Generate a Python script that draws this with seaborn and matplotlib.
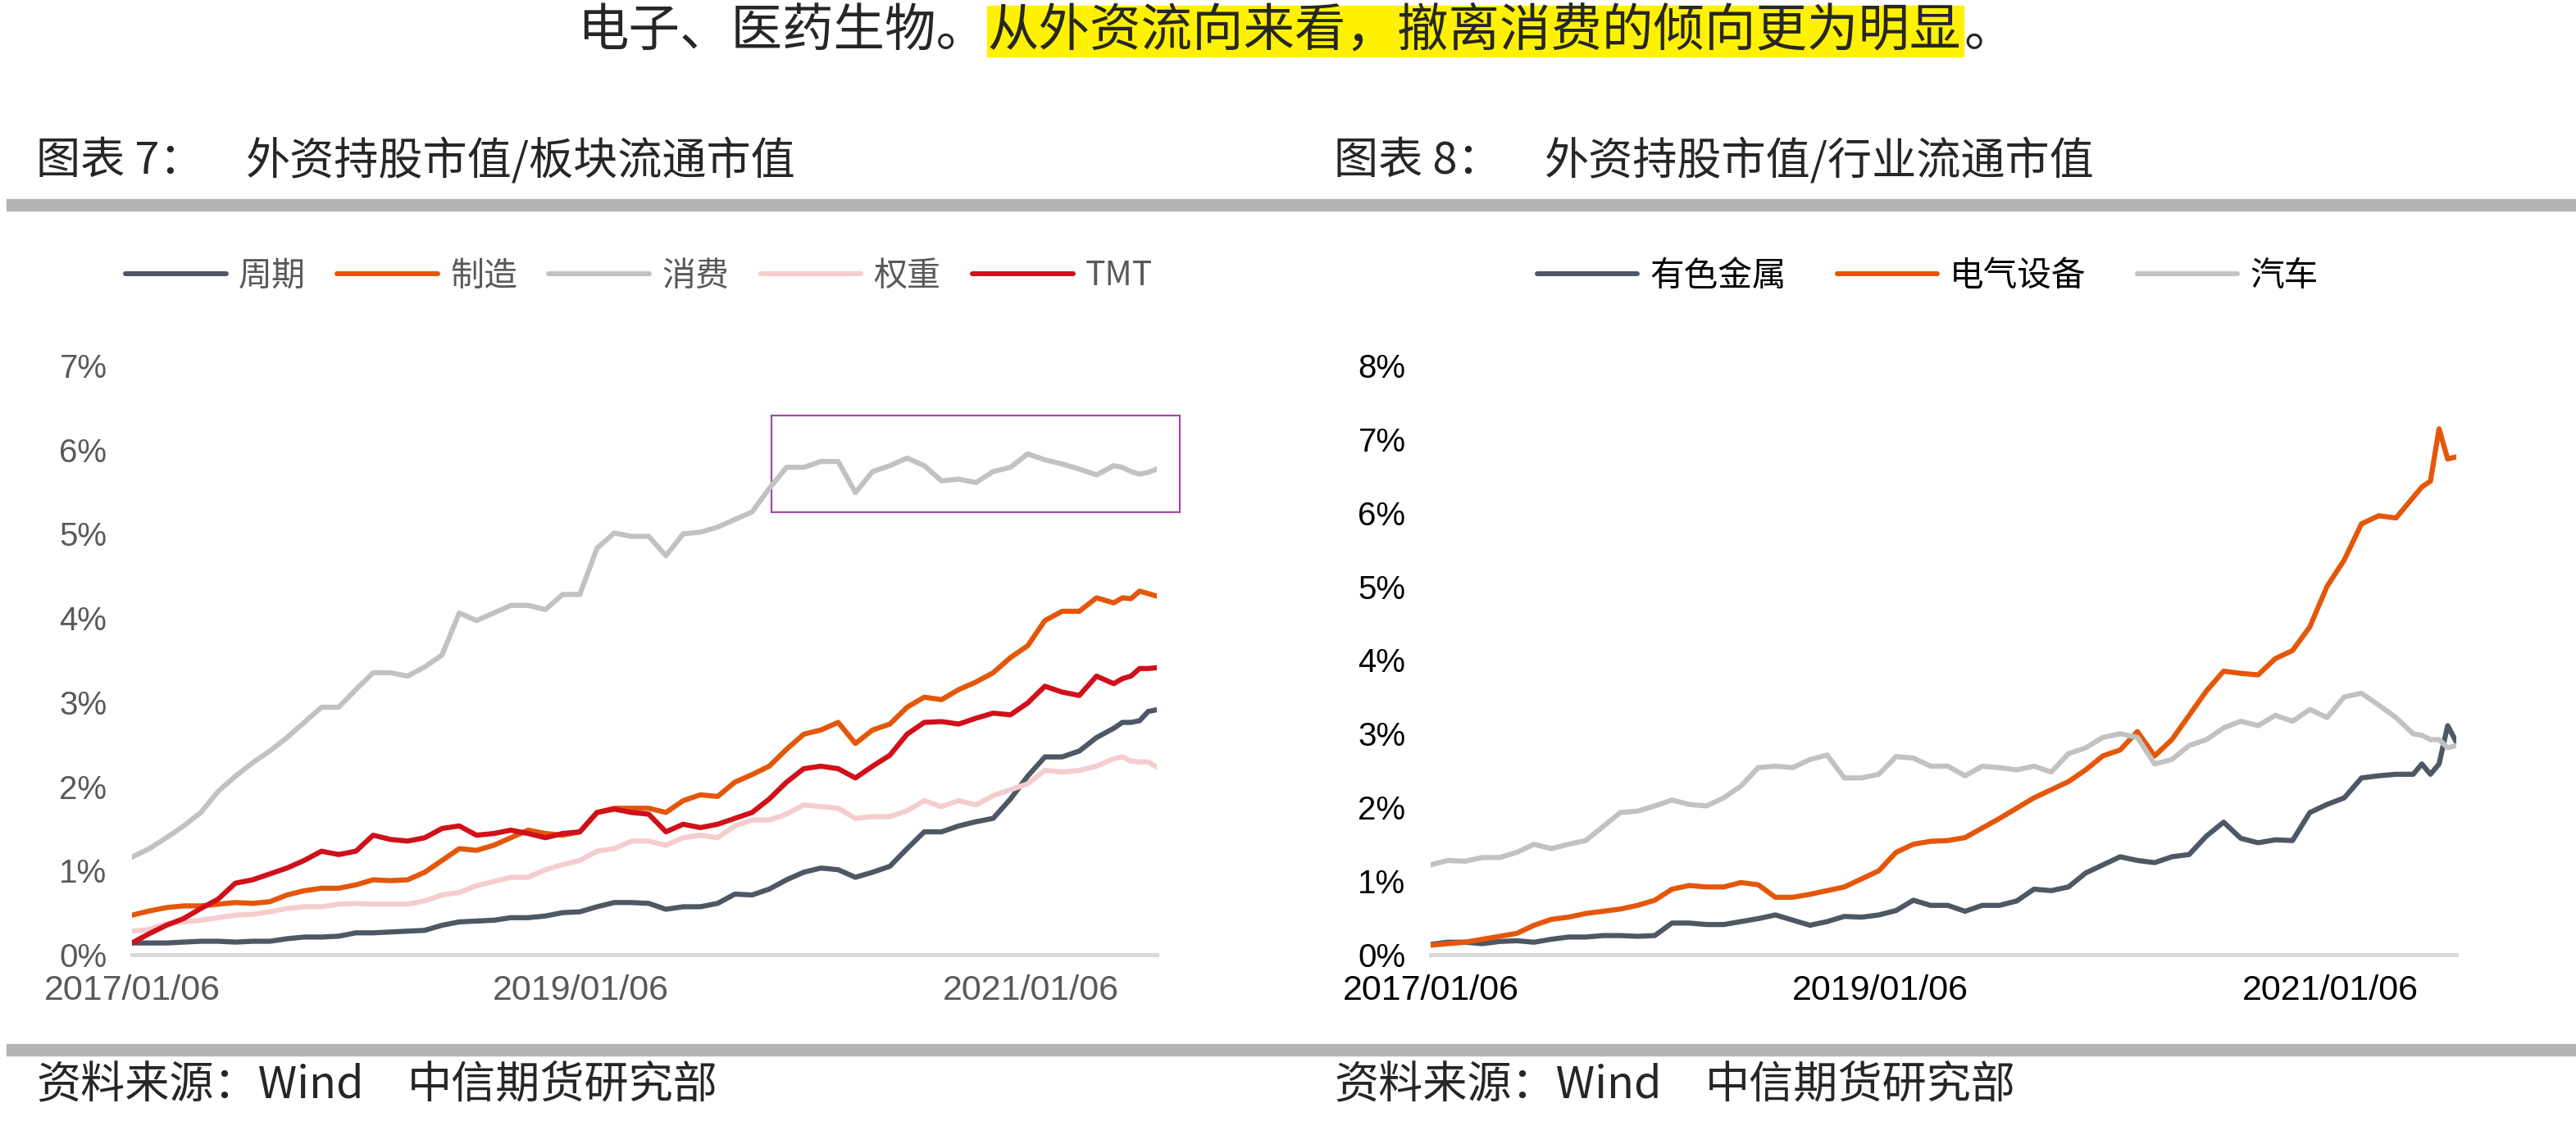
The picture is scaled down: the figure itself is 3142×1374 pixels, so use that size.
import matplotlib
matplotlib.use("Agg")
from matplotlib import pyplot as plt
from matplotlib.lines import Line2D
from matplotlib.patches import Rectangle
from matplotlib.ticker import PercentFormatter
import pandas as pd
import seaborn as sns

# ==============================================================================
# DATA (values in %, read off the picture, sampled every 4 weeks + last 5 biweekly)
# ==============================================================================
dates = pd.date_range("2017-01-06", "2021-05-21", freq="28D").append(
    pd.DatetimeIndex(["2021-06-04", "2021-06-18", "2021-07-02", "2021-07-16", "2021-07-30"]))

# 图表 7: 外资持股市值/板块流通市值
zhouqi = [0.14, 0.14, 0.14, 0.15, 0.16, 0.16, 0.15, 0.16, 0.16, 0.19,
          0.21, 0.21, 0.22, 0.26, 0.26, 0.27, 0.28, 0.29, 0.35, 0.39,
          0.40, 0.41, 0.44, 0.44, 0.46, 0.50, 0.51, 0.57, 0.62, 0.62,
          0.61, 0.54, 0.57, 0.57, 0.61, 0.72, 0.71, 0.78, 0.89, 0.98,
          1.03, 1.01, 0.92, 0.98, 1.05, 1.26, 1.46, 1.46, 1.53, 1.58,
          1.62, 1.85, 2.12, 2.35, 2.35, 2.42, 2.58, 2.69,
          2.76, 2.76, 2.78, 2.89, 2.91]
zhizao = [0.47, 0.52, 0.56, 0.58, 0.58, 0.60, 0.62, 0.61, 0.63, 0.71,
          0.76, 0.79, 0.79, 0.83, 0.89, 0.88, 0.89, 0.98, 1.12, 1.26,
          1.24, 1.30, 1.39, 1.48, 1.44, 1.42, 1.46, 1.69, 1.74, 1.74,
          1.74, 1.69, 1.83, 1.90, 1.88, 2.05, 2.14, 2.24, 2.44, 2.62,
          2.67, 2.76, 2.51, 2.67, 2.74, 2.94, 3.06, 3.03, 3.15, 3.24,
          3.35, 3.53, 3.67, 3.97, 4.08, 4.08, 4.24, 4.18,
          4.24, 4.23, 4.32, 4.29, 4.26]
xiaofei = [1.16, 1.26, 1.39, 1.53, 1.69, 1.94, 2.12, 2.28, 2.42, 2.58,
           2.76, 2.94, 2.94, 3.15, 3.35, 3.35, 3.31, 3.42, 3.56, 4.06,
           3.97, 4.06, 4.15, 4.15, 4.10, 4.28, 4.28, 4.83, 5.01, 4.97,
           4.97, 4.74, 5.00, 5.02, 5.08, 5.17, 5.26, 5.54, 5.79, 5.79,
           5.86, 5.86, 5.49, 5.74, 5.81, 5.90, 5.81, 5.63, 5.65, 5.61,
           5.74, 5.79, 5.95, 5.88, 5.83, 5.77, 5.70, 5.81,
           5.79, 5.74, 5.71, 5.73, 5.77]
quanzhong = [0.28, 0.30, 0.37, 0.39, 0.41, 0.44, 0.47, 0.48, 0.51, 0.55,
             0.57, 0.57, 0.60, 0.61, 0.60, 0.60, 0.60, 0.64, 0.71, 0.74,
             0.82, 0.87, 0.92, 0.92, 1.01, 1.07, 1.12, 1.23, 1.26, 1.35,
             1.35, 1.30, 1.39, 1.42, 1.39, 1.53, 1.60, 1.60, 1.67, 1.78,
             1.76, 1.74, 1.62, 1.64, 1.64, 1.71, 1.83, 1.76, 1.83, 1.78,
             1.89, 1.96, 2.03, 2.19, 2.17, 2.19, 2.24, 2.33,
             2.35, 2.30, 2.29, 2.29, 2.23]
tmt = [0.14, 0.25, 0.35, 0.43, 0.55, 0.66, 0.85, 0.89, 0.96, 1.03,
       1.12, 1.23, 1.19, 1.23, 1.42, 1.37, 1.35, 1.39, 1.50, 1.53,
       1.42, 1.44, 1.48, 1.44, 1.39, 1.44, 1.46, 1.69, 1.73, 1.69,
       1.67, 1.46, 1.55, 1.51, 1.55, 1.62, 1.69, 1.85, 2.05, 2.21,
       2.24, 2.21, 2.10, 2.24, 2.37, 2.62, 2.76, 2.77, 2.74, 2.81,
       2.87, 2.85, 2.99, 3.19, 3.12, 3.08, 3.31, 3.22,
       3.28, 3.31, 3.40, 3.40, 3.41]

# 图表 8: 外资持股市值/行业流通市值
youse = [0.14, 0.17, 0.17, 0.15, 0.18, 0.19, 0.17, 0.21, 0.24, 0.24,
         0.26, 0.26, 0.25, 0.26, 0.43, 0.43, 0.41, 0.41, 0.45, 0.49,
         0.54, 0.47, 0.40, 0.45, 0.52, 0.51, 0.54, 0.60, 0.74, 0.67,
         0.67, 0.59, 0.67, 0.67, 0.73, 0.89, 0.87, 0.92, 1.11, 1.22,
         1.33, 1.28, 1.25, 1.33, 1.36, 1.61, 1.80, 1.58, 1.52, 1.56,
         1.55, 1.93, 2.04, 2.13, 2.40, 2.43, 2.45, 2.45,
         2.59, 2.45, 2.59, 3.11, 2.89]
dianqi = [0.13, 0.15, 0.17, 0.21, 0.25, 0.29, 0.40, 0.48, 0.51, 0.56,
          0.59, 0.62, 0.67, 0.74, 0.89, 0.94, 0.92, 0.92, 0.98, 0.95,
          0.78, 0.78, 0.82, 0.87, 0.92, 1.03, 1.14, 1.39, 1.50, 1.54,
          1.55, 1.59, 1.72, 1.85, 1.99, 2.13, 2.24, 2.35, 2.51, 2.70,
          2.78, 3.03, 2.70, 2.92, 3.25, 3.58, 3.85, 3.82, 3.80, 4.02,
          4.13, 4.45, 5.00, 5.36, 5.85, 5.96, 5.93, 6.21,
          6.35, 6.43, 7.14, 6.73, 6.76]
qiche = [1.22, 1.28, 1.27, 1.32, 1.32, 1.39, 1.50, 1.44, 1.50, 1.55,
         1.74, 1.93, 1.95, 2.02, 2.10, 2.04, 2.02, 2.13, 2.29, 2.54,
         2.56, 2.54, 2.65, 2.71, 2.40, 2.40, 2.45, 2.69, 2.67, 2.56,
         2.56, 2.43, 2.56, 2.54, 2.51, 2.56, 2.48, 2.73, 2.81, 2.95,
         3.00, 2.95, 2.59, 2.65, 2.84, 2.92, 3.08, 3.17, 3.11, 3.25,
         3.17, 3.33, 3.22, 3.50, 3.55, 3.39, 3.22, 3.00,
         2.98, 2.92, 2.92, 2.81, 2.84]

left_names = ["周期", "制造", "消费", "权重", "TMT"]
left_colors = ["#4E5865", "#E4570B", "#C2C2C2", "#F5CDCF", "#D0101A"]
right_names = ["有色金属", "电气设备", "汽车"]
right_colors = ["#4E5865", "#E4570B", "#C2C2C2"]

tick_dates = ["2017-01-06", "2019-01-06", "2021-01-06"]
tick_labels = ["2017/01/06", "2019/01/06", "2021/01/06"]

left_df = pd.DataFrame({"date": dates, "周期": zhouqi, "制造": zhizao, "消费": xiaofei,
                        "权重": quanzhong, "TMT": tmt})
right_df = pd.DataFrame({"date": dates, "有色金属": youse, "电气设备": dianqi, "汽车": qiche})

# ==============================================================================
# STYLE / LAYOUT
# ==============================================================================
sns.set_theme(style="white")
plt.rcParams["font.family"] = ["Noto Sans CJK SC", "DejaVu Sans"]

W, H = 3142, 1374
fig = plt.figure(figsize=(W / 100, H / 100), dpi=100)


def fx(px):
    return px / W


def fy(py):
    return 1 - py / H


def draw_panel(ax, df, names, colors, ymax, text_color):
    long = df.melt(id_vars="date", var_name="series", value_name="value")
    sns.lineplot(data=long, x="date", y="value", hue="series", hue_order=names,
                 palette=colors, linewidth=4.5, ax=ax, legend=False,
                 solid_capstyle="round", solid_joinstyle="round")
    ax.set_xlim(df["date"].iloc[0], df["date"].iloc[-1])
    ax.set_ylim(0, ymax)
    ax.set_yticks(range(0, ymax + 1))
    ax.yaxis.set_major_formatter(PercentFormatter(decimals=0))
    ax.set_xticks(pd.to_datetime(tick_dates))
    ax.set_xticklabels(tick_labels)
    ax.set_xlabel("")
    ax.set_ylabel("")
    ax.tick_params(axis="both", length=0, colors=text_color)
    ax.tick_params(axis="x", pad=17, labelsize=31)
    ax.tick_params(axis="y", pad=22, labelsize=29)
    for lab in ax.get_yticklabels():
        lab.set_fontfamily(["Liberation Sans Narrow", "Liberation Sans", "DejaVu Sans"])
    for lab in ax.get_xticklabels():
        lab.set_fontfamily(["Liberation Sans", "DejaVu Sans"])
    for side in ["left", "top", "right"]:
        ax.spines[side].set_visible(False)
    ax.spines["bottom"].set_color("#D9D9D9")
    ax.spines["bottom"].set_linewidth(3.6)
    ax.grid(False)


ax1 = fig.add_axes([fx(161), fy(1165), fx(1250), 719 / H])
ax2 = fig.add_axes([fx(1745), fy(1165), fx(1251), 719 / H])
draw_panel(ax1, left_df, left_names, left_colors, 7, "#595959")
draw_panel(ax2, right_df, right_names, right_colors, 8, "#000000")

# purple highlight box around the 消费 plateau
ax1.add_patch(Rectangle((0.624, 0.751), 0.398, 0.164, transform=ax1.transAxes,
                        fill=False, edgecolor="#A04DA3", linewidth=1.6, clip_on=False))

# legends
left_handles = [Line2D([0], [0], color=c, lw=4.3, solid_capstyle="round") for c in left_colors]
fig.legend(left_handles, left_names, loc="center left", bbox_to_anchor=(fx(153), fy(337)),
           ncol=5, frameon=False, fontsize=29.5, handlelength=3.0, handletextpad=0.37,
           columnspacing=0.93, borderpad=0, borderaxespad=0, labelcolor="#595959")
right_handles = [Line2D([0], [0], color=c, lw=4.3, solid_capstyle="round") for c in right_colors]
fig.legend(right_handles, right_names, loc="center left", bbox_to_anchor=(fx(1875), fy(337)),
           ncol=3, frameon=False, fontsize=30, handlelength=2.93, handletextpad=0.36,
           columnspacing=1.5, borderpad=0, borderaxespad=0, labelcolor="#000000")

# ==============================================================================
# HEADER / TITLES / FOOTER
# ==============================================================================
fig.add_artist(Rectangle((fx(1204), fy(69)), fx(2395) - fx(1204), 62 / H,
                         transform=fig.transFigure, color="#FFF200", zorder=0))
fig.text(fx(1204), fy(38), "电子、医药生物。", ha="right", va="center", fontsize=45)
fig.text(fx(1204), fy(38), "从外资流向来看，撤离消费的倾向更为明显", ha="left", va="center", fontsize=45)
fig.text(fx(2395), fy(38), "。", ha="left", va="center", fontsize=45)

fig.text(fx(44), fy(196), "图表 7：", ha="left", va="center", fontsize=39)
fig.text(fx(300), fy(196), "外资持股市值/板块流通市值", ha="left", va="center", fontsize=39)
fig.text(fx(1627), fy(196), "图表 8：", ha="left", va="center", fontsize=39)
fig.text(fx(1884), fy(196), "外资持股市值/行业流通市值", ha="left", va="center", fontsize=39)

fig.add_artist(Rectangle((fx(8), fy(257)), 1 - fx(8), 14 / H,
                         transform=fig.transFigure, color="#B4B4B4"))
fig.add_artist(Rectangle((fx(8), fy(1288)), 1 - fx(8), 14 / H,
                         transform=fig.transFigure, color="#B4B4B4"))

for x0 in [44, 1627]:
    fig.text(fx(x0), fy(1325), "资料来源：Wind", ha="left", va="center", fontsize=39)
    fig.text(fx(x0 + 453), fy(1325), "中信期货研究部", ha="left", va="center", fontsize=39)

fig.savefig("out.png", dpi=100)
